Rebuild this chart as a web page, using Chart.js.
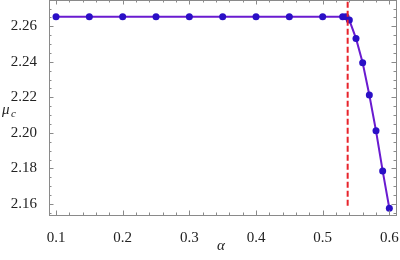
<!DOCTYPE html>
<html lang="en">
<head>
  <meta charset="UTF-8">
  <title>mu_c vs alpha</title>
  <script src="https://cdn.jsdelivr.net/npm/chart.js"></script>
  <style>
    html, body { margin: 0; padding: 0; background: #fff; }
    #wrap { width: 400px; height: 260px; }
  </style>
</head>
<body>
  <div id="wrap"><canvas id="muChart" width="400" height="260"></canvas></div>

  <script>
    // data
    const alpha = [0.10, 0.15, 0.20, 0.25, 0.30, 0.35, 0.40, 0.45, 0.50, 0.53, 0.535,
                   0.54, 0.55, 0.56, 0.57, 0.58, 0.59, 0.60];
    const muC = [2.2654, 2.2654, 2.2654, 2.2654, 2.2654, 2.2654, 2.2654, 2.2654, 2.2654,
                 2.2654, 2.2654, 2.2635, 2.2532, 2.2395, 2.2213, 2.2012, 2.1786, 2.1576];
    const alphaCrit = 0.5375;
    const critRange = [2.159, 2.2748];
    const xTicks = [0.1, 0.2, 0.3, 0.4, 0.5, 0.6];
    const yTicks = [2.16, 2.18, 2.20, 2.22, 2.24, 2.26];

    const serif = '"Liberation Serif", "DejaVu Serif", serif';

    // frame with inward ticks on all four sides, like the original plot
    const framePlugin = {
      id: 'frame',
      afterDraw(chart) {
        const { ctx, chartArea: a, scales: { x, y } } = chart;
        ctx.save();
        ctx.strokeStyle = '#8a8a8a';
        ctx.lineWidth = 1;
        ctx.strokeRect(a.left + 0.5, a.top + 0.5, a.right - a.left - 1, a.bottom - a.top);
        ctx.beginPath();
        for (let i = 0; i <= 31; i++) {
          const v = 0.02 * i;
          if (v < x.min || v > x.max) continue;
          const px = Math.round(x.getPixelForValue(v)) + 0.5;
          const len = (i % 5 === 0) ? 4.5 : 2.5;
          ctx.moveTo(px, a.bottom); ctx.lineTo(px, a.bottom - len);
          ctx.moveTo(px, a.top); ctx.lineTo(px, a.top + len);
        }
        for (let i = 0; i <= 30; i++) {
          const v = 2.15 + 0.005 * i;
          if (v < y.min || v > y.max) continue;
          const py = Math.round(y.getPixelForValue(v)) + 0.5;
          const len = (i % 4 === 2) ? 4.5 : 2.5;
          ctx.moveTo(a.left, py); ctx.lineTo(a.left + len, py);
          ctx.moveTo(a.right - 1, py); ctx.lineTo(a.right - 1 - len, py);
        }
        ctx.stroke();

        // axis labels
        ctx.fillStyle = '#222';
        ctx.textBaseline = 'alphabetic';
        ctx.font = 'italic 15px ' + serif;
        ctx.fillText('μ', 2, 114);
        ctx.font = 'italic 11px ' + serif;
        ctx.fillText('c', 11, 117);
        ctx.font = 'italic 15px ' + serif;
        ctx.textAlign = 'center';
        ctx.fillText('α', 221, 250);
        ctx.restore();
      }
    };

    new Chart(document.getElementById('muChart'), {
      type: 'scatter',
      data: {
        datasets: [
          {
            data: alpha.map((a, i) => ({ x: a, y: muC[i] })),
            showLine: true,
            borderColor: '#6a1bd0',
            borderWidth: 2,
            pointBackgroundColor: '#2a0fc6',
            pointBorderWidth: 0,
            pointRadius: 3.5,
            order: 1
          },
          {
            data: critRange.map(v => ({ x: alphaCrit, y: v })),
            showLine: true,
            borderColor: '#e8232b',
            borderWidth: 2,
            borderDash: [6, 3],
            pointRadius: 0,
            order: 0
          }
        ]
      },
      options: {
        responsive: false,
        animation: false,
        layout: { autoPadding: false, padding: { top: 0, right: 3, left: 0, bottom: 0 } },
        plugins: { legend: { display: false }, tooltip: { enabled: false } },
        scales: {
          x: {
            type: 'linear',
            min: 0.0895,
            max: 0.6115,
            afterBuildTicks: s => { s.ticks = xTicks.map(v => ({ value: v })); },
            afterFit: s => { s.height = 45; s.paddingLeft = 0; s.paddingRight = 0; },
            grid: { display: false },
            border: { display: false },
            ticks: {
              padding: 6,
              color: '#222',
              font: { family: serif, size: 15 },
              callback: v => v.toFixed(1)
            }
          },
          y: {
            type: 'linear',
            min: 2.1538,
            max: 2.2748,
            afterBuildTicks: s => { s.ticks = yTicks.map(v => ({ value: v })); },
            afterFit: s => { s.width = 49; s.paddingTop = 0; s.paddingBottom = 0; },
            grid: { display: false },
            border: { display: false },
            ticks: {
              padding: 4,
              color: '#222',
              font: { family: serif, size: 15 },
              callback: v => v.toFixed(2)
            }
          }
        }
      },
      plugins: [framePlugin]
    });
  </script>
</body>
</html>
